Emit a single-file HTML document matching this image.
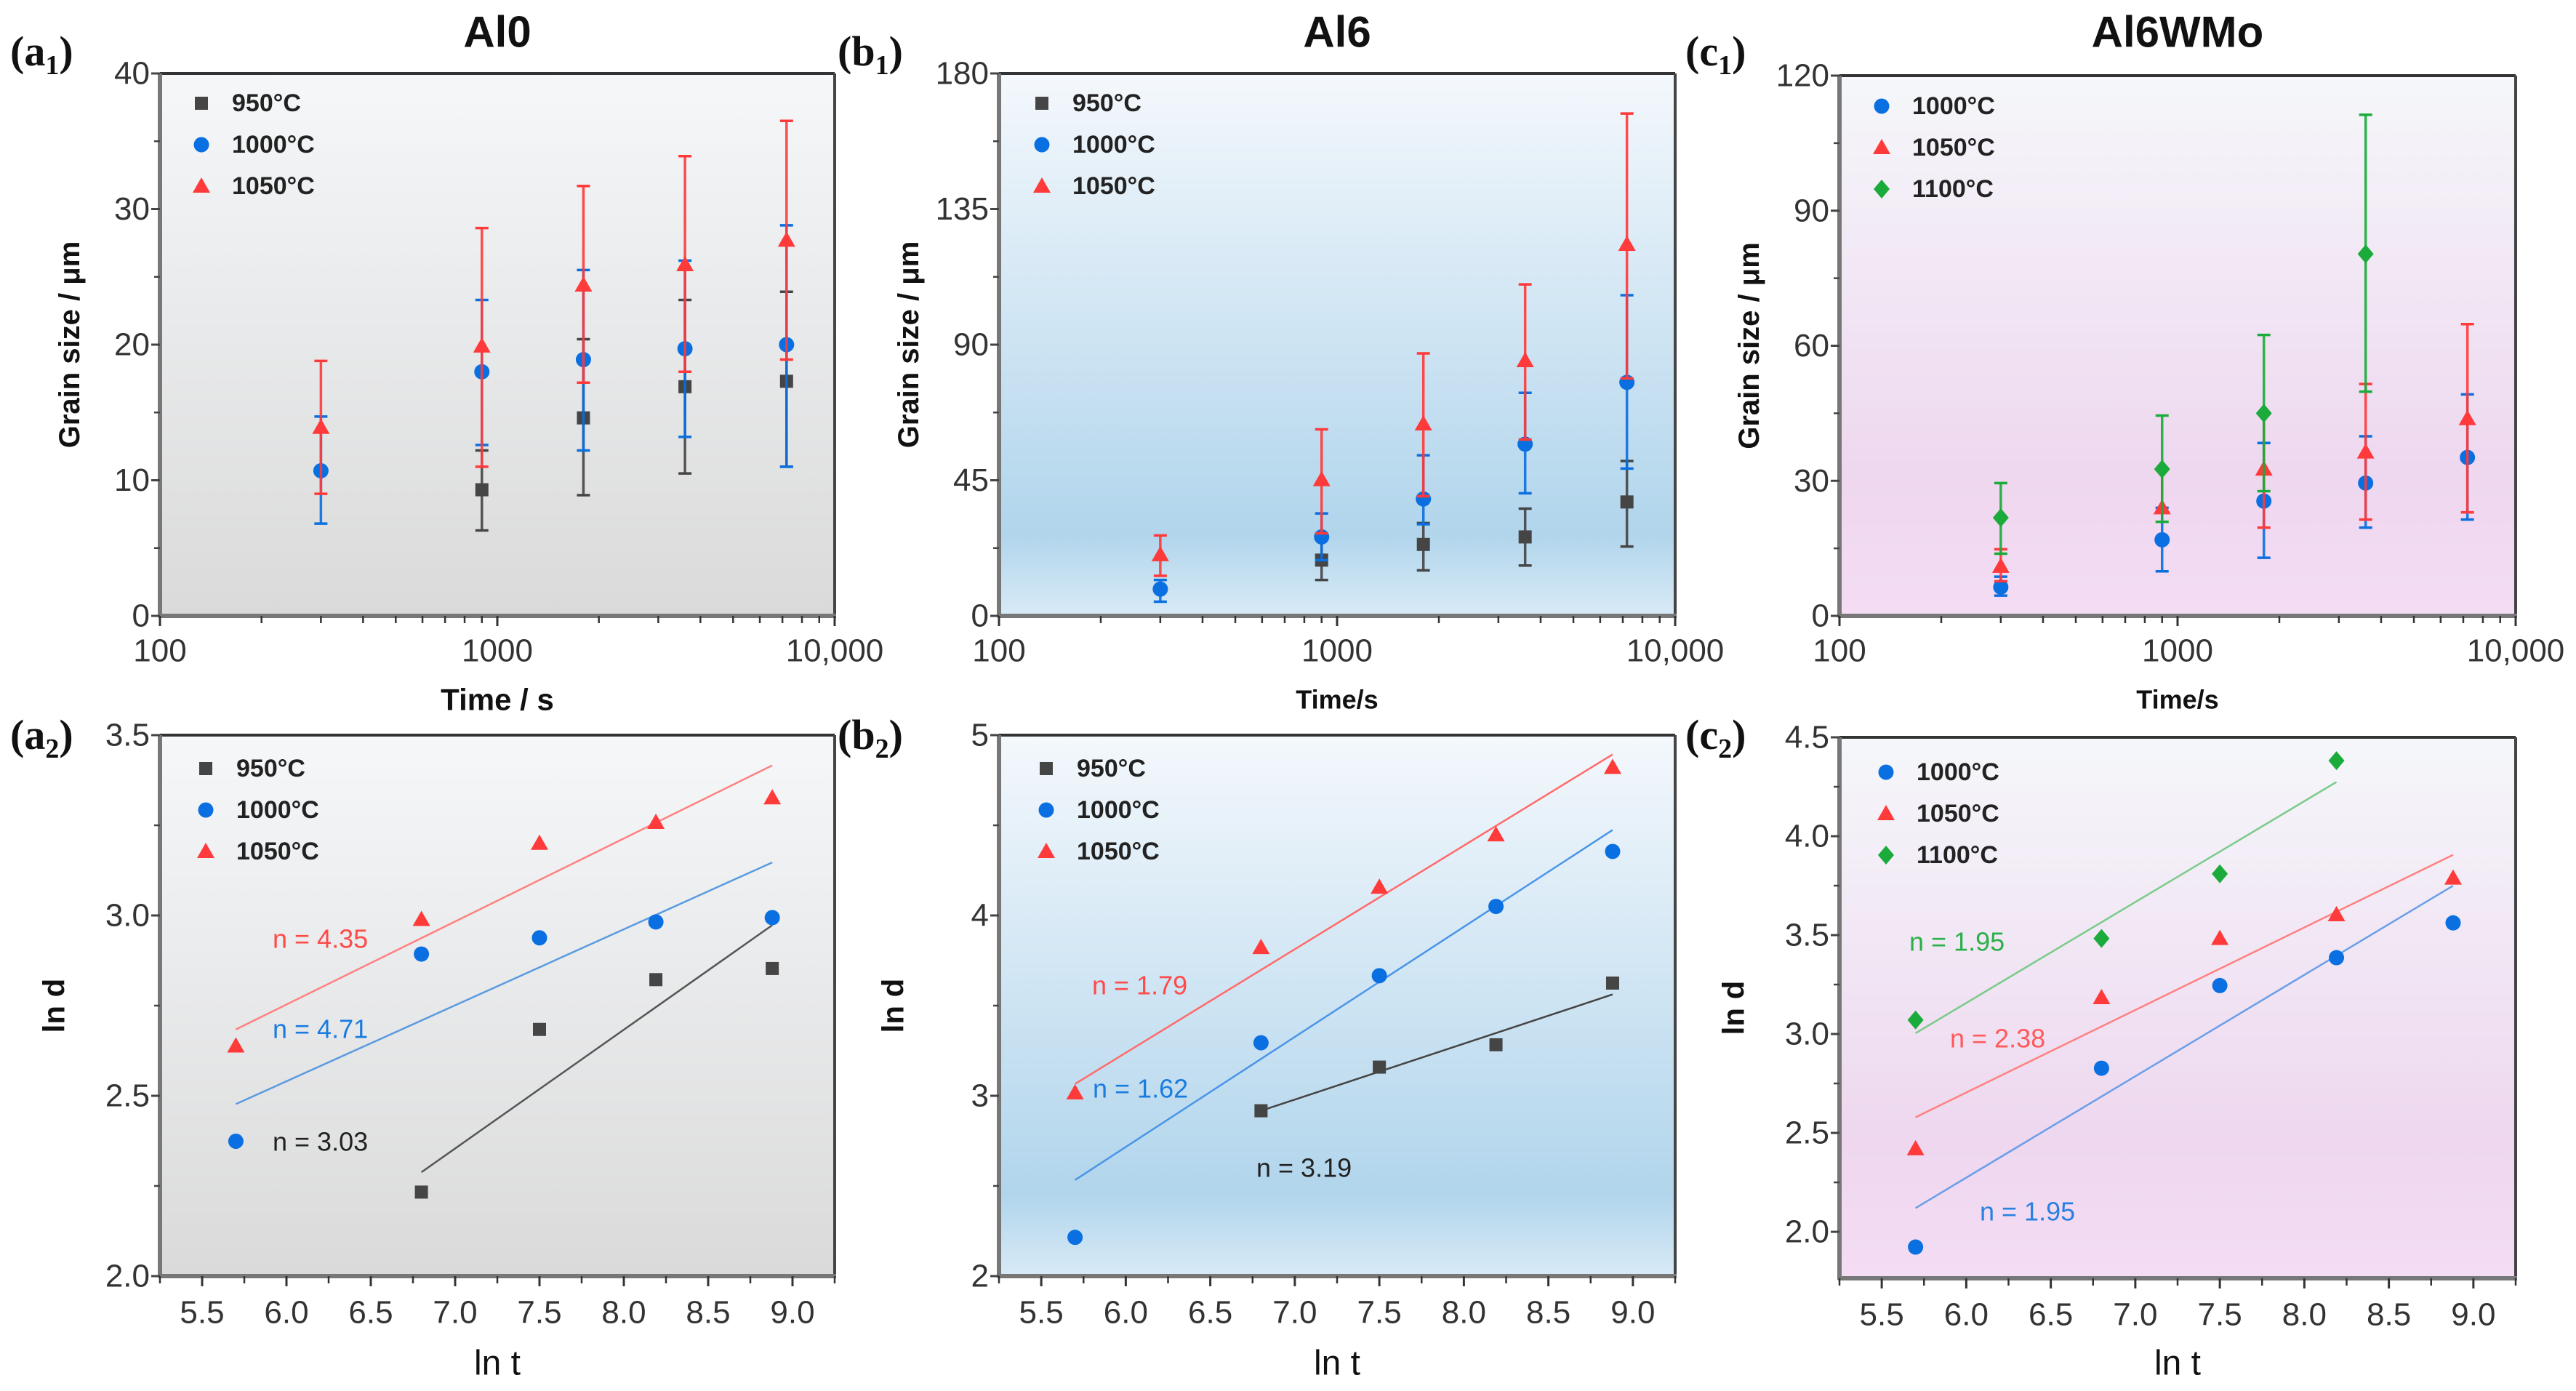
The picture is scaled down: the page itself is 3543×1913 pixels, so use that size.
<!DOCTYPE html>
<html><head><meta charset="utf-8"><style>
html,body{margin:0;padding:0;background:#fff;}
svg{display:block;}
</style></head><body>
<svg id="fig" xmlns="http://www.w3.org/2000/svg" width="3543" height="1913" viewBox="0 0 3543 1913">
<defs>
<linearGradient id="gGray" x1="0" y1="0" x2="0" y2="1"><stop offset="0" stop-color="#f5f7f9"/><stop offset="1" stop-color="#dadada"/></linearGradient>
<linearGradient id="gBlue" x1="0" y1="0" x2="0" y2="1"><stop offset="0" stop-color="#f4f8fc"/><stop offset="0.85" stop-color="#b1d5ec"/><stop offset="1" stop-color="#d8eaf6"/></linearGradient>
<linearGradient id="gPink" x1="0" y1="0" x2="0" y2="1"><stop offset="0" stop-color="#f5f7fa"/><stop offset="0.75" stop-color="#eed7ef"/><stop offset="1" stop-color="#f4ddf4"/></linearGradient>
</defs>
</svg>
<script>
// ---------- data ----------
const times = [300, 900, 1800, 3600, 7200];
const lnTimes = [5.70, 6.80, 7.50, 8.19, 8.88];

// (a1) Al0
const a1_950 = [null, 9.3, 14.6, 16.9, 17.3];
const a1_950lo = [null, 6.3, 8.9, 10.5, 11.0];
const a1_950hi = [null, 12.2, 20.4, 23.3, 23.9];
const a1_1000 = [10.7, 18.0, 18.9, 19.7, 20.0];
const a1_1000lo = [6.8, 12.6, 12.2, 13.2, 11.0];
const a1_1000hi = [14.7, 23.3, 25.5, 26.2, 28.8];
const a1_1050 = [13.9, 19.9, 24.4, 25.9, 27.7];
const a1_1050lo = [9.0, 11.0, 17.2, 18.0, 18.9];
const a1_1050hi = [18.8, 28.6, 31.7, 33.9, 36.5];

// (b1) Al6
const b1_950 = [null, 18.5, 23.7, 26.2, 37.8];
const b1_950lo = [null, 11.9, 15.1, 16.7, 23.0];
const b1_950hi = [null, 26.0, 30.8, 35.6, 51.4];
const b1_1000 = [8.9, 26.2, 38.8, 57.0, 77.5];
const b1_1000lo = [4.7, 18.5, 30.4, 40.7, 48.9];
const b1_1000hi = [11.9, 34.0, 53.3, 74.0, 106.4];
const b1_1050 = [20.3, 45.2, 63.7, 84.7, 123.3];
const b1_1050lo = [13.3, 27.4, 39.7, 58.5, 78.8];
const b1_1050hi = [26.7, 61.9, 87.1, 110.0, 166.7];

// (c1) Al6WMo
const c1_1000 = [6.4, 16.9, 25.5, 29.5, 35.2];
const c1_1000lo = [4.5, 9.9, 12.9, 19.6, 21.4];
const c1_1000hi = [8.7, 24.0, 38.4, 39.9, 49.2];
const c1_1050 = [11.0, 24.0, 32.6, 36.4, 43.8];
const c1_1050lo = [7.7, 23.2, 19.6, 21.4, 23.0];
const c1_1050hi = [14.8, 32.4, 44.8, 51.5, 64.8];
const c1_1100 = [21.8, 32.6, 45.0, 80.4, null];
const c1_1100lo = [13.8, 20.9, 27.7, 49.8, null];
const c1_1100hi = [29.5, 44.5, 62.4, 111.3, null];

// (a2)
const a2_950 = [null, 2.233, 2.684, 2.822, 2.853];
const a2_1000 = [2.374, 2.893, 2.938, 2.982, 2.994];
const a2_1050 = [2.638, 2.989, 3.200, 3.258, 3.326];
const a2_fitX = [[6.80, 8.88], [5.70, 8.88], [5.70, 8.88]];
const a2_fitY = [[2.288, 2.973], [2.477, 3.147], [2.684, 3.416]];
// (b2)
const b2_950 = [null, 2.917, 3.159, 3.283, 3.625];
const b2_1000 = [2.215, 3.294, 3.666, 4.050, 4.355];
const b2_1050 = [3.016, 3.822, 4.157, 4.447, 4.821];
const b2_fitX = [[6.80, 8.88], [5.70, 8.88], [5.70, 8.88]];
const b2_fitY = [[2.917, 3.562], [2.533, 4.474], [3.066, 4.893]];
// (c2)
const c2_1000 = [1.923, 2.827, 3.245, 3.386, 3.562];
const c2_1050 = [2.420, 3.184, 3.483, 3.603, 3.788];
const c2_1100 = [3.071, 3.483, 3.810, 4.382, null];
const c2_fitX = [[5.70, 8.88], [5.70, 8.88], [5.70, 8.19]];
const c2_fitY = [[2.120, 3.750], [2.579, 3.906], [3.004, 4.274]];

const logTicks = [100, 1000, 10000];
const logTickLabels = ["100", "1000", "10,000"];
const lnTTicks = [5.5, 6.0, 6.5, 7.0, 7.5, 8.0, 8.5, 9.0];
const lnTTickLabels = ["5.5", "6.0", "6.5", "7.0", "7.5", "8.0", "8.5", "9.0"];

// ---------- drawing ----------
const NS = "http://www.w3.org/2000/svg";
const svg = document.getElementById("fig");
const COL = {g:"#454545", b:"#0a6fe0", r:"#ff3a3a", gr:"#1aab3a"};

function mk(tag, attrs, parent) {
  const e = document.createElementNS(NS, tag);
  for (const k in attrs) e.setAttribute(k, attrs[k]);
  (parent || svg).appendChild(e);
  return e;
}
function txt(s, x, y, size, opts, parent) {
  const t = mk("text", Object.assign({x:x, y:y, "font-size":size, "font-family":"Liberation Sans, DejaVu Sans, sans-serif", fill:"#222", "dominant-baseline":"central"}, opts || {}), parent);
  t.textContent = s;
  return t;
}
function marker(shape, x, y, color, g) {
  let m;
  if (shape === "sq") m = mk("rect", {x:x-9, y:y-9, width:18, height:18, fill:color}, g);
  else if (shape === "ci") m = mk("circle", {cx:x, cy:y, r:10.5, fill:color}, g);
  else if (shape === "tr") m = mk("polygon", {points:`${x},${y-12} ${x+12},${y+9} ${x-12},${y+9}`, fill:color}, g);
  else m = mk("polygon", {points:`${x},${y-13} ${x+11},${y} ${x},${y+13} ${x-11},${y}`, fill:color}, g);
  return m;
}

function frame(g, L, T, R, B, fill) {
  const bg = mk("rect", {x:L, y:T, width:R-L, height:B-T, fill:fill}, g);
  
  
  mk("line", {x1:L, y1:T, x2:R, y2:T, stroke:"#333", "stroke-width":4}, g);
  mk("line", {x1:R, y1:T, x2:R, y2:B, stroke:"#444", "stroke-width":4}, g);
  mk("line", {x1:L, y1:T, x2:L, y2:B+2, stroke:"#777", "stroke-width":6}, g);
  mk("line", {x1:L-2, y1:B, x2:R+2, y2:B, stroke:"#777", "stroke-width":6}, g);
}

function yAxis(g, L, y, ticks, labels, minors) {
  ticks.forEach((v, i) => {
    mk("line", {x1:L-12, y1:y(v), x2:L, y2:y(v), stroke:"#444", "stroke-width":3}, g);
    const t = txt(labels[i], L-14, y(v), 44, {"text-anchor":"end", fill:"#333"}, g);
    
    
  });
  minors.forEach(v => mk("line", {x1:L-8, y1:y(v), x2:L, y2:y(v), stroke:"#444", "stroke-width":2.5}, g));
}

function legend(g, x, y0, dy, items) {
  items.forEach((it, i) => {
    const lg = mk("g", {}, g);
    
    
    marker(it[0], x, y0 + i*dy, it[1], lg);
    txt(it[2], x + 42, y0 + i*dy, 34, {"font-weight":"bold", fill:"#222"}, lg);
  });
}

function panelLabel(s, sub, x, y) {
  const t = mk("text", {x:x, y:y, "font-size":58, "font-family":"Liberation Serif, serif", "font-weight":"bold", fill:"#111"});
  
  
  const a = mk("tspan", {}, t); a.textContent = "(" + s;
  const b = mk("tspan", {"font-size":38, dy:12}, t); b.textContent = sub;
  const c = mk("tspan", {dy:-12}, t); c.textContent = ")";
}

// top panel
function topPanel(name, L, T, R, B, fill, yMax, yStep, title, xTitle, xTitleSize, seriesList, legX, legY0) {
  const g = mk("g", {});
  
  
  const x = v => L + (Math.log10(v) - 2) / 2 * (R - L);
  const y = v => B - v / yMax * (B - T);
  frame(g, L, T, R, B, fill);
  const ticks = [], labels = [], minors = [];
  for (let v = 0; v <= yMax + 1e-9; v += yStep) { ticks.push(v); labels.push(String(v)); }
  for (let v = yStep/2; v < yMax; v += yStep) minors.push(v);
  yAxis(g, L, y, ticks, labels, minors);
  logTicks.forEach((v, i) => {
    mk("line", {x1:x(v), y1:B, x2:x(v), y2:B+14, stroke:"#333", "stroke-width":3}, g);
    const t = txt(logTickLabels[i], x(v), B+48, 44, {"text-anchor":"middle", fill:"#333"}, g);
    
    
  });
  [2,3,4,5,6,7,8,9].forEach(m => [100, 1000].forEach(d => {
    mk("line", {x1:x(m*d), y1:B, x2:x(m*d), y2:B+10, stroke:"#333", "stroke-width":2.5}, g);
  }));
  seriesList.forEach(s => {
    const sg = mk("g", {}, g);
    
    
    s.v.forEach((v, i) => {
      if (v === null) return;
      const px = x(times[i]);
      mk("line", {x1:px, y1:y(s.lo[i]), x2:px, y2:y(s.hi[i]), stroke:s.c, "stroke-width":3.5, opacity:0.9}, sg);
      mk("line", {x1:px-9, y1:y(s.lo[i]), x2:px+9, y2:y(s.lo[i]), stroke:s.c, "stroke-width":3.5}, sg);
      mk("line", {x1:px-9, y1:y(s.hi[i]), x2:px+9, y2:y(s.hi[i]), stroke:s.c, "stroke-width":3.5}, sg);
      const m = marker(s.shape, px, y(v), s.c, sg);
      
      
    });
  });
  legend(g, legX, legY0, 57, seriesList.map(s => [s.shape, s.c, s.label]));
  const tt = txt(title, (L+R)/2, 44, 60, {"text-anchor":"middle", "font-weight":"bold", fill:"#111"}, g);
  
  
  const xt = txt(xTitle, (L+R)/2, 962, xTitleSize, {"text-anchor":"middle", "font-weight":"bold", fill:"#111"}, g);
  
  
  const yt = txt("Grain size / μm", 0, 0, 40, {"text-anchor":"middle", "font-weight":"bold", fill:"#111", transform:`translate(${L-124},${(T+B)/2}) rotate(-90)`}, g);
  
  
}

// bottom panel
function botPanel(name, L, T, R, B, fill, yMin, yMax, ticks, labels, minors, seriesList, fitX, fitY, notes, legX, legY0) {
  const g = mk("g", {});
  
  
  const x = v => L + (v - 5.25) / 4 * (R - L);
  const y = v => B - (v - yMin) / (yMax - yMin) * (B - T);
  frame(g, L, T, R, B, fill);
  yAxis(g, L, y, ticks, labels, minors);
  lnTTicks.forEach((v, i) => {
    mk("line", {x1:x(v), y1:B, x2:x(v), y2:B+14, stroke:"#333", "stroke-width":3}, g);
    const t = txt(lnTTickLabels[i], x(v), B+50, 44, {"text-anchor":"middle", fill:"#333"}, g);
    
    
  });
  for (let v = 5.25; v <= 9.26; v += 0.5) mk("line", {x1:x(v), y1:B, x2:x(v), y2:B+10, stroke:"#333", "stroke-width":2.5}, g);
  seriesList.forEach((s, k) => {
    const fl = mk("line", {x1:x(fitX[k][0]), y1:y(fitY[k][0]), x2:x(fitX[k][1]), y2:y(fitY[k][1]), stroke:s.lc, "stroke-width":2.5}, g);
    
    
  });
  seriesList.forEach(s => {
    const sg = mk("g", {}, g);
    
    
    s.v.forEach((v, i) => {
      if (v === null) return;
      const m = marker(s.shape, x(lnTimes[i]), y(v), s.c, sg);
      
      
    });
  });
  notes.forEach(n => {
    const t = txt(n[0], n[1], n[2], 36, {fill:n[3]}, g);
    
    
  });
  legend(g, legX, legY0, 57, seriesList.map(s => [s.shape, s.c, s.label]));
  const xt = txt("ln t", (L+R)/2, 1875, 48, {"text-anchor":"middle", fill:"#111"}, g);
  
  
  const yt = txt("ln d", 0, 0, 42, {"text-anchor":"middle", "font-weight":"bold", fill:"#111", transform:`translate(${L-146},${(T+B)/2}) rotate(-90)`}, g);
  
  
}

// top row
topPanel("chart-a1-al0", 220, 101, 1148, 847, "url(#gGray)", 40, 10, "Al0", "Time / s", 42, [
  {label:"950°C", shape:"sq", c:COL.g, v:a1_950, lo:a1_950lo, hi:a1_950hi},
  {label:"1000°C", shape:"ci", c:COL.b, v:a1_1000, lo:a1_1000lo, hi:a1_1000hi},
  {label:"1050°C", shape:"tr", c:COL.r, v:a1_1050, lo:a1_1050lo, hi:a1_1050hi}], 277, 142);
topPanel("chart-b1-al6", 1374, 101, 2304, 847, "url(#gBlue)", 180, 45, "Al6", "Time/s", 36, [
  {label:"950°C", shape:"sq", c:COL.g, v:b1_950, lo:b1_950lo, hi:b1_950hi},
  {label:"1000°C", shape:"ci", c:COL.b, v:b1_1000, lo:b1_1000lo, hi:b1_1000hi},
  {label:"1050°C", shape:"tr", c:COL.r, v:b1_1050, lo:b1_1050lo, hi:b1_1050hi}], 1433, 142);
topPanel("chart-c1-al6wmo", 2530, 104, 3460, 847, "url(#gPink)", 120, 30, "Al6WMo", "Time/s", 36, [
  {label:"1000°C", shape:"ci", c:COL.b, v:c1_1000, lo:c1_1000lo, hi:c1_1000hi},
  {label:"1050°C", shape:"tr", c:COL.r, v:c1_1050, lo:c1_1050lo, hi:c1_1050hi},
  {label:"1100°C", shape:"di", c:COL.gr, v:c1_1100, lo:c1_1100lo, hi:c1_1100hi}], 2588, 146);

// bottom row
botPanel("chart-a2", 220, 1011, 1148, 1755, "url(#gGray)", 2.0, 3.5,
  [2.0, 2.5, 3.0, 3.5], ["2.0", "2.5", "3.0", "3.5"], [2.25, 2.75, 3.25], [
  {label:"950°C", shape:"sq", c:COL.g, lc:"#555", v:a2_950},
  {label:"1000°C", shape:"ci", c:COL.b, lc:"#5a9be0", v:a2_1000},
  {label:"1050°C", shape:"tr", c:COL.r, lc:"#ff8080", v:a2_1050}], a2_fitX, a2_fitY,
  [["n = 4.35", 375, 1291, "#ff4a4a"], ["n = 4.71", 375, 1415, "#1a7be0"], ["n = 3.03", 375, 1570, "#222"]], 283, 1057);
botPanel("chart-b2", 1374, 1011, 2304, 1755, "url(#gBlue)", 2, 5,
  [2, 3, 4, 5], ["2", "3", "4", "5"], [2.5, 3.5, 4.5], [
  {label:"950°C", shape:"sq", c:COL.g, lc:"#444", v:b2_950},
  {label:"1000°C", shape:"ci", c:COL.b, lc:"#4a95e8", v:b2_1000},
  {label:"1050°C", shape:"tr", c:COL.r, lc:"#ff6a6a", v:b2_1050}], b2_fitX, b2_fitY,
  [["n = 1.79", 1502, 1355, "#ff4a4a"], ["n = 1.62", 1503, 1497, "#1a7be0"], ["n = 3.19", 1728, 1606, "#222"]], 1439, 1057);
botPanel("chart-c2", 2530, 1014, 3460, 1758, "url(#gPink)", 1.765, 4.5,
  [2.0, 2.5, 3.0, 3.5, 4.0, 4.5], ["2.0", "2.5", "3.0", "3.5", "4.0", "4.5"], [2.25, 2.75, 3.25, 3.75, 4.25], [
  {label:"1000°C", shape:"ci", c:COL.b, lc:"#6a9ee8", v:c2_1000},
  {label:"1050°C", shape:"tr", c:COL.r, lc:"#ff8080", v:c2_1050},
  {label:"1100°C", shape:"di", c:COL.gr, lc:"#7acb8a", v:c2_1100}], c2_fitX, c2_fitY,
  [["n = 1.95", 2626, 1295, "#2ab04a"], ["n = 2.38", 2682, 1428, "#ff5a5a"], ["n = 1.95", 2723, 1666, "#2a80e0"]], 2594, 1062);

panelLabel("a", "1", 14, 90);
panelLabel("b", "1", 1152, 90);
panelLabel("c", "1", 2318, 90);
panelLabel("a", "2", 14, 1030);
panelLabel("b", "2", 1152, 1030);
panelLabel("c", "2", 2318, 1030);
</script>
</body></html>
